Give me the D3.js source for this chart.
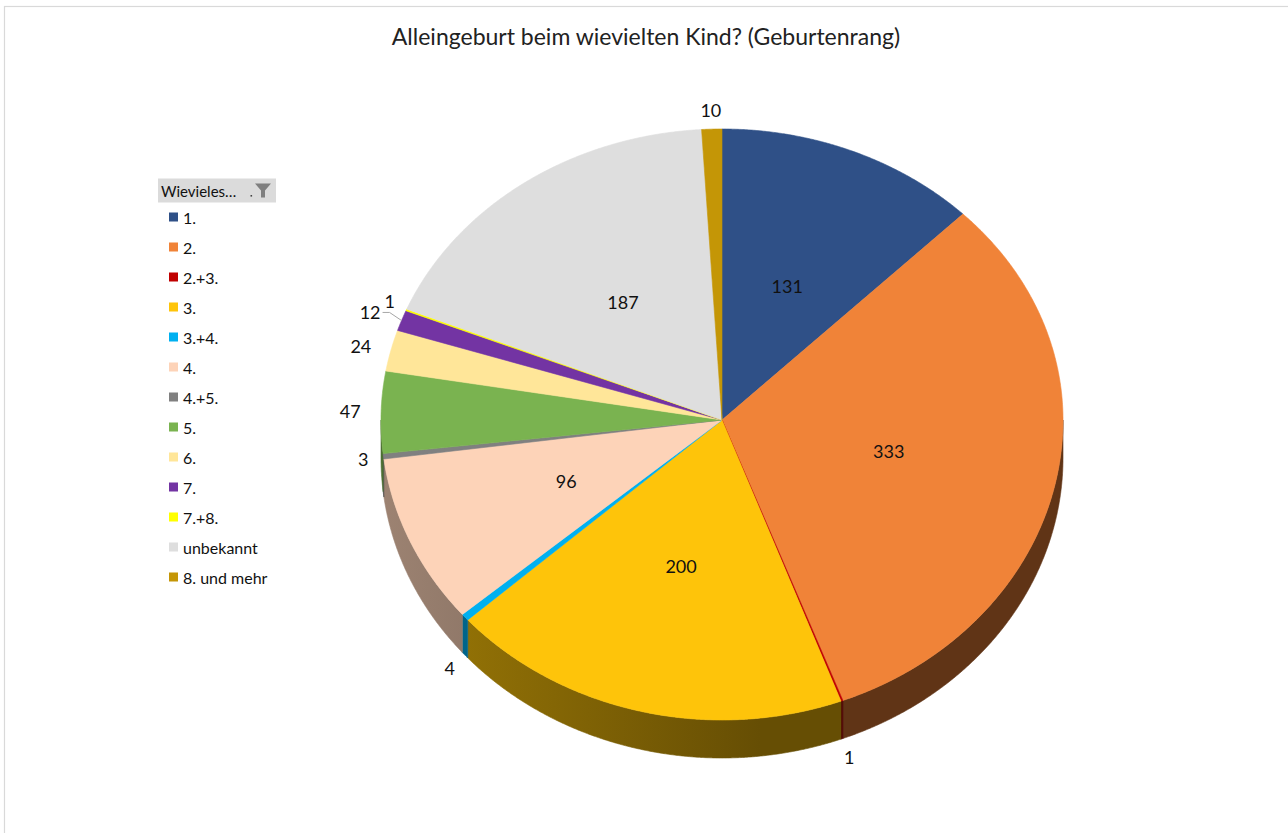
<!DOCTYPE html>
<html><head><meta charset="utf-8">
<script src="https://cdn.jsdelivr.net/npm/d3@7"></script>
<style>body{margin:0;background:#fff} text{font-family:Lato,'Open Sans',sans-serif}</style>
</head><body><svg id="c" width="1288" height="833"></svg>
<script>
const categories = ["1.","2.","2.+3.","3.","3.+4.","4.","4.+5.","5.","6.","7.","7.+8.","unbekannt","8. und mehr"];
const values = [131,333,1,200,4,96,3,47,24,12,1,187,10];
const colors = ["#2F5087","#F08338","#C00000","#FEC40A","#00B0F0","#FDD3B8","#808080","#7AB350","#FFE699","#7334A3","#FFFF00","#DEDEDE","#C49606"];
const title = "Alleingeburt beim wievielten Kind? (Geburtenrang)";
const legendTitle = "Wievieles…";

const svg = d3.select("#c");
// chart frame
svg.append("rect").attr("x",4.5).attr("y",6.5).attr("width",1400).attr("height",1000)
  .attr("fill","#fff").attr("stroke","#d9d9d9").attr("stroke-width",1.2);

svg.append("text").attr("x",646).attr("y",45).attr("text-anchor","middle")
  .attr("font-size",23).attr("fill","#222").text(title);

const cx=722, cy=420, rx=341, ryT=291, ryB=300, depth=38;
const total = d3.sum(values);
const data = categories.map((c,i)=>({c, v:values[i], col:colors[i], i}));
const arcs = d3.pie().sort(null).value(d=>d.v)(data);

function pt(a, r=1, dy=0){ const c=Math.cos(a), s=Math.sin(a); return [cx+rx*r*s, cy-(c>=0?ryT:ryB)*r*c+dy]; }
function arcPts(a0,a1,dy=0){ const n=Math.max(2,Math.ceil((a1-a0)/(Math.PI/720))); return d3.range(n+1).map(k=>pt(a0+(a1-a0)*k/n,1,dy)); }
const line = d3.line();
const defs = svg.append("defs");
const scaleCol = (col,f)=>{const c=d3.rgb(col); return d3.rgb(c.r*f,c.g*f,c.b*f).formatHex();};
const shade = d3.scaleLinear().domain([381,760]).range([0.62,0.40]).clamp(true);

// side walls (front half)
const gWall = svg.append("g");
arcs.forEach((a,idx)=>{
  const a0=Math.max(a.startAngle,Math.PI/2), a1=Math.min(a.endAngle,3*Math.PI/2);
  if(a0>=a1) return;
  const gid="wg"+idx;
  const gr=defs.append("linearGradient").attr("id",gid).attr("gradientUnits","userSpaceOnUse")
    .attr("x1",381).attr("x2",760).attr("y1",0).attr("y2",0);
  gr.append("stop").attr("offset",0).attr("stop-color",scaleCol(a.data.col,shade(381)));
  gr.append("stop").attr("offset",1).attr("stop-color",scaleCol(a.data.col,shade(760)));
  const pts = arcPts(a0,a1,0).concat(arcPts(a0,a1,depth).reverse());
  gWall.append("path").attr("d",line(pts)+"Z").attr("fill",`url(#${gid})`)
    .attr("stroke",`url(#${gid})`).attr("stroke-width",0.6);
});

// top surface
const gTop = svg.append("g");
arcs.forEach(a=>{
  const pts=[[cx,cy]].concat(arcPts(a.startAngle,a.endAngle,0));
  gTop.append("path").attr("d",line(pts)+"Z").attr("fill",a.data.col)
    .attr("stroke",a.data.col).attr("stroke-width",0.6).attr("stroke-linejoin","round");
});

// labels
const gLab = svg.append("g").attr("font-size",18).attr("fill","#111");
const outside=[];
arcs.forEach(a=>{
  const m=(a.startAngle+a.endAngle)/2;
  if(a.data.v/total>0.05){
    const p=pt(m,0.5);
    gLab.append("text").attr("x",p[0]).attr("y",p[1]).attr("text-anchor","middle")
      .attr("dominant-baseline","central").text(a.data.v);
  } else {
    const s=Math.sin(m), c=Math.cos(m);
    const ex = Math.max(0,Math.min(1,(-c-0.15)/0.4))*depth;
    const e=pt(m,1,ex);
    const t=gLab.append("text").attr("text-anchor","middle").attr("dominant-baseline","central").text(a.data.v);
    const w=t.node().getComputedTextLength(), h=18, g=10;
    const x=e[0]+s*(g+w), y=e[1]-c*g-c*h/2;
    outside.push({t,x,y,w,h,m,edge:pt(m,1,0),lead:false});
  }
});
// simple horizontal collision resolution
for(let it=0;it<20;it++){
  for(let i=0;i<outside.length;i++) for(let j=i+1;j<outside.length;j++){
    const A=outside[i],B=outside[j];
    const ox=(A.w+B.w)/2+4-Math.abs(A.x-B.x), oy=(A.h+B.h)/2-2-Math.abs(A.y-B.y);
    if(ox>0&&oy>0){
      const dir = A.x<=B.x?1:-1;
      A.x-=dir*ox/2; B.x+=dir*ox/2;
      A.y-=oy/3; B.y-=oy/3;
      const outA = Math.sin(A.m)<0 ? (dir>0) : (dir<0);
      if(outA) A.lead=true; else B.lead=true;
    }
  }
}
outside.forEach(o=>{
  o.t.attr("x",o.x).attr("y",o.y);
  if(o.lead){
    const sx = Math.sin(o.m)<0 ? o.x+o.w/2+2 : o.x-o.w/2-2;
    const k = Math.sin(o.m)<0 ? 1 : -1;
    svg.append("polyline").attr("points",[[sx,o.y],[sx+k*7,o.y],o.edge].map(p=>p.join(",")).join(" "))
      .attr("fill","none").attr("stroke","#a6a6a6").attr("stroke-width",1);
  }
});

// legend
const lg = svg.append("g");
lg.append("rect").attr("x",158).attr("y",178.5).attr("width",118).attr("height",24).attr("fill","#dbdbdb");
lg.append("text").attr("x",161).attr("y",191).attr("dominant-baseline","central").attr("font-size",15)
  .attr("fill","#111").text(legendTitle);
lg.append("polygon").attr("points","255,183.5 271,183.5 265,190.5 265,197.5 261,197.5 261,190.5").attr("fill","#7f7f7f");
lg.append("rect").attr("x",250.5).attr("y",195).attr("width",1.6).attr("height",1.6).attr("fill","#444");
const ly = d3.scalePoint().domain(categories).range([217,577]);
categories.forEach((c,i)=>{
  lg.append("rect").attr("x",169).attr("y",ly(c)-4.5).attr("width",9).attr("height",9).attr("fill",colors[i]);
  lg.append("text").attr("x",183).attr("y",ly(c)).attr("dominant-baseline","central")
    .attr("font-size",16).attr("fill","#111").text(c);
});
</script></body></html>
